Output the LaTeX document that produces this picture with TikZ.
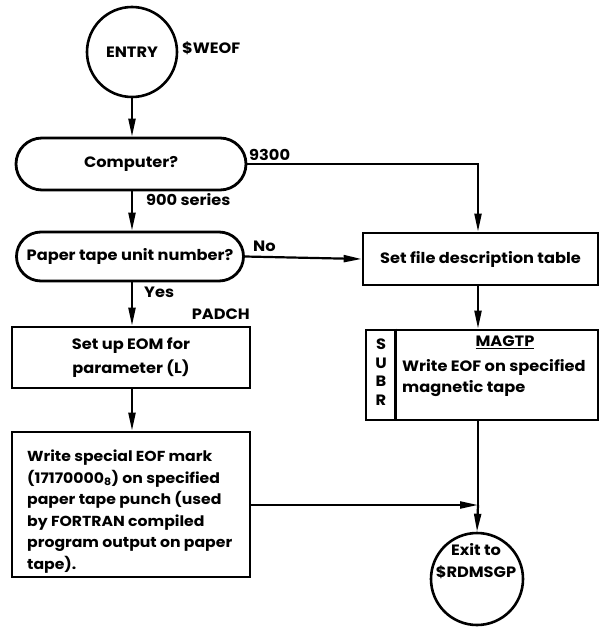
\documentclass[tikz,border=0pt]{standalone}
\usepackage{fontspec}
\setmainfont{Poppins}[FakeStretch=1.08]
\usetikzlibrary{arrows.meta,shapes.misc}
\begin{document}
\begin{tikzpicture}[x=1pt,y=-1pt,
  every node/.style={font=\bfseries\fontsize{15}{24.5}\selectfont},
  box/.style={draw, line width=2.8pt, rectangle, inner sep=4pt},
  decision/.style={draw, line width=2.8pt, rounded rectangle, inner sep=4pt},
  term/.style={draw, line width=2.6pt, circle, inner sep=0pt},
  flow/.style={line width=2.2pt, -{Triangle[length=18pt,width=7pt]}},
  plain/.style={line width=2.2pt},
  lbl/.style={inner sep=1pt}]
\useasboundingbox (0,0) rectangle (603,629);

% terminals
\node[term, minimum size=90pt] (entry) at (132,52) {ENTRY};
\node[lbl, anchor=west] (weof) at (181,48) {\$WEOF};
\node[term, minimum size=92pt] (exit) at (477,579) {};
\node[lbl, align=center] (exittxt) at (476,561) {Exit to\\[-3pt]\$RDMSGP};

% decisions
\node[decision, minimum width=238pt, minimum height=52pt] (comp) at (131,164) {Computer?};
\node[decision, minimum width=235pt, minimum height=49pt] (paper) at (130,256.5) {Paper tape unit number?};

% process boxes
\node[box, minimum width=235pt, minimum height=52pt] (setfile) at (480.5,259) {Set file description table};
\node[box, minimum width=238pt, minimum height=61pt, align=center] (eom) at (131,357.5)
  {Set up EOM for\\parameter (L)};
\node[box, minimum width=238pt, minimum height=145pt] (write) at (131,504.5) {};
\node[lbl, anchor=north west, align=left, font=\bfseries\fontsize{14.5}{21.5}\selectfont] (writetxt) at (26,449)
  {Write special EOF mark\\(17170000\textsubscript{8}) on specified\\paper tape punch (used\\by FORTRAN compiled\\program output on paper\\tape).};

% subroutine box with side strip
\node[box, minimum width=232pt, minimum height=90pt] (subr) at (482,375) {};
\draw[line width=2.4pt] ([xshift=31pt]subr.north west) -- ([xshift=31pt]subr.south west);
\node[lbl, align=center] (subrtag) at (381,372) {S\\[-6pt]U\\[-6pt]B\\[-6pt]R};
\node[lbl] (magtp) at (505,342) {\underline{MAGTP}};
\node[lbl, anchor=west, align=left] (magtxt) at (401,378) {Write EOF on specified\\[-3pt]magnetic tape};

% branch labels
\node[lbl, anchor=south west] (l9300) at (248,162) {9300};
\node[lbl, anchor=west] (l900) at (145,200) {900 series};
\node[lbl, anchor=south west] (lno) at (252,253) {No};
\node[lbl, anchor=west] (lyes) at (143,292) {Yes};
\node[lbl, anchor=east] (padch) at (251,314) {PADCH};

% junction above the exit
\coordinate (join) at (478,505);

% connectors
\draw[flow] (entry.south) -- (entry.south |- comp.north);
\draw[flow] (comp.east) -| (setfile.north -| join);
\draw[flow] (comp.south -| entry.south) -- (paper.north -| entry.south);
\draw[flow] (paper.east) -- (setfile.west);
\draw[flow] (paper.south -| entry.south) -- (eom.north -| entry.south);
\draw[flow] (eom.south -| entry.south) -- (write.north -| entry.south);
\draw[flow] (setfile.south -| join) -- (subr.north -| join);
\draw[plain] (subr.south -| join) -- (join);
\draw[flow] (write.east |- join) -- (join);
\draw[flow] (join) -- (exit.north);
\end{tikzpicture}
\end{document}
